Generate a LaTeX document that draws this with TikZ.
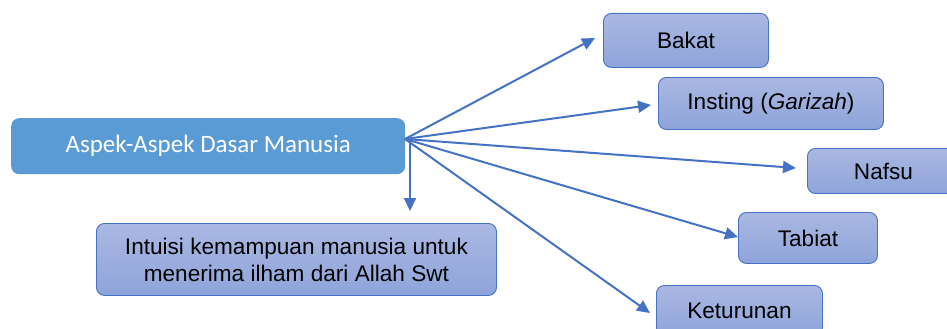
\documentclass[tikz,border=0pt]{standalone}
\usepackage{fontspec}
\setmainfont{Liberation Sans}
\newfontfamily\calfont{Carlito}
\usetikzlibrary{arrows.meta}
\definecolor{mainblue}{HTML}{5B9BD5}
\definecolor{linkblue}{HTML}{4472C4}
\definecolor{boxtop}{HTML}{AAB8E2}
\definecolor{boxbot}{HTML}{8EA4DA}
\tikzset{
  mainbox/.style={fill=mainblue, rounded corners=8pt, text=white, font=\calfont\fontsize{25}{30}\selectfont, anchor=north west, inner sep=0pt},
  leafbox/.style={draw=linkblue, line width=0.9pt, top color=boxtop, bottom color=boxbot, rounded corners=8pt, text=black, font=\fontsize{22.6}{27}\selectfont, anchor=north west, inner sep=0pt, align=center},
  arr/.style={draw=linkblue, line width=2pt, -{Triangle[length=13pt,width=12pt]}}
}
\begin{document}
\begin{tikzpicture}[x=1pt,y=-1pt]
\useasboundingbox (0,0) rectangle (947,329);
\clip (0,0) rectangle (947,329);
\node[mainbox, minimum width=394pt, minimum height=56pt] (main) at (11,118) {Aspek-Aspek Dasar Manusia};
\node[leafbox, minimum width=400pt, minimum height=72pt] (intuisi) at (96,223) {Intuisi kemampuan manusia untuk\\menerima ilham dari Allah Swt};
\node[leafbox, minimum width=165pt, minimum height=54pt] (bakat) at (603,13) {Bakat};
\node[leafbox, minimum width=225pt, minimum height=52pt] (insting) at (658,77) {Insting (\textit{Garizah})};
\node[leafbox, minimum width=152pt, minimum height=45pt] (nafsu) at (807,148) {Nafsu};
\node[leafbox, minimum width=139pt, minimum height=51pt] (tabiat) at (738,212) {Tabiat};
\node[leafbox, minimum width=166pt, minimum height=50pt] (keturunan) at (656,285) {Keturunan};
\coordinate (o) at (405,139);
\coordinate (od) at (410,139);
\coordinate (tint) at (410,211);
\coordinate (tbak) at (595,38);
\coordinate (tins) at (651,105);
\coordinate (tnaf) at (796,168);
\coordinate (ttab) at (738,237);
\coordinate (tket) at (650,313);
\draw[arr] (od) -- (tint);
\draw[arr] (o) -- (tbak);
\draw[arr] (o) -- (tins);
\draw[arr] (o) -- (tnaf);
\draw[arr] (o) -- (ttab);
\draw[arr] (o) -- (tket);
\end{tikzpicture}
\end{document}
